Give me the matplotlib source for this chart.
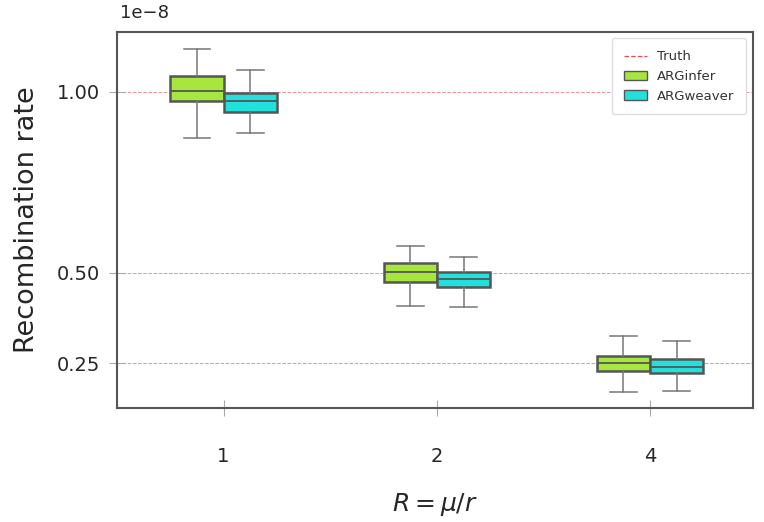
import matplotlib
matplotlib.use("Agg")
from matplotlib import pyplot as plt
from matplotlib.patches import Patch
from matplotlib.lines import Line2D

# ratios R = mu / r
categories = ["1", "2", "4"]
truth = [1.0e-8, 0.5e-8, 0.25e-8]

# box stats (x 1e-8): whisker low, q1, median, q3, whisker high
arginfer = [
    [0.872, 0.974, 1.001, 1.044, 1.118],
    [0.408, 0.475, 0.502, 0.527, 0.575],
    [0.169, 0.229, 0.251, 0.269, 0.326],
]
argweaver = [
    [0.886, 0.945, 0.976, 0.996, 1.060],
    [0.405, 0.460, 0.483, 0.503, 0.544],
    [0.172, 0.223, 0.240, 0.260, 0.310],
]

green = "#a6e63e"
cyan = "#22e0dc"
red = "#e87878"


def stats(rows):
    out = []
    for lo, q1, med, q3, hi in rows:
        out.append(dict(whislo=lo * 1e-8, q1=q1 * 1e-8, med=med * 1e-8,
                        q3=q3 * 1e-8, whishi=hi * 1e-8, fliers=[]))
    return out


fig = plt.figure(figsize=(7.64, 5.22), dpi=100)
ax = fig.add_axes([0.153, 0.218, 0.832, 0.721])

w = 0.25
pos = list(range(len(categories)))
for data, col, shift in [(arginfer, green, -w / 2), (argweaver, cyan, w / 2)]:
    ax.bxp(stats(data), positions=[p + shift for p in pos], widths=w,
           patch_artist=True, showfliers=False,
           boxprops=dict(facecolor=col, edgecolor="#555555", linewidth=1.8),
           medianprops=dict(color="#555555", linewidth=1.3),
           whiskerprops=dict(color="#777777", linewidth=1.1),
           capprops=dict(color="#777777", linewidth=1.1),
           capwidths=w * 0.5)

for t in truth:
    ax.axhline(t, color=red, linestyle="--", linewidth=0.7, alpha=0.8,
               zorder=0.5)

ax.set_xlim(-0.5, 2.48)
ax.set_ylim(0.125e-8, 1.166e-8)
ax.set_xticks(pos)
ax.set_xticklabels(categories)
ax.set_yticks(sorted(truth))
ax.set_yticklabels(["0.25", "0.50", "1.00"])
ax.text(0.005, 1.025, "1e\u22128", transform=ax.transAxes, fontsize=13,
        color="#262626", ha="left", va="bottom")

for s in ax.spines.values():
    s.set_color("#555555")
    s.set_linewidth(1.5)
ax.tick_params(axis="both", direction="inout", length=12, width=0.8,
               color="#aaaaaa", labelsize=14, labelcolor="#262626")
ax.tick_params(axis="x", pad=22)
ax.tick_params(axis="y", pad=6)

ax.set_ylabel("Recombination rate", fontsize=19.5, color="#262626",
              labelpad=12)
ax.set_xlabel(r"$R=\mu/r$", fontsize=18, color="#262626", labelpad=18)

handles = [Line2D([], [], color="#e05050", linestyle="--", linewidth=0.9),
           Patch(facecolor=green, edgecolor="#555555"),
           Patch(facecolor=cyan, edgecolor="#555555")]
leg = ax.legend(handles, ["Truth", "ARGinfer", "ARGweaver"], loc="upper right",
                fontsize=9.5, borderpad=0.9, framealpha=1, edgecolor="#dddddd",
                borderaxespad=0.5, handlelength=1.8, handletextpad=0.7)
for txt in leg.get_texts():
    txt.set_color("#333333")

fig.savefig("out.png", dpi=100)
